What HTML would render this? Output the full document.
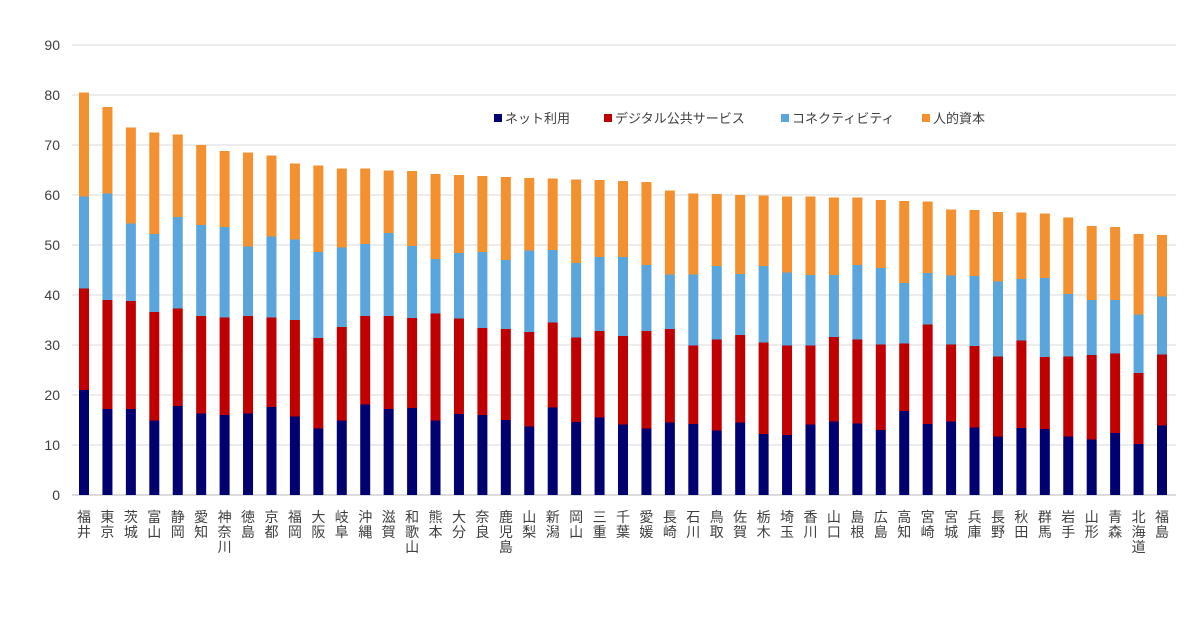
<!DOCTYPE html>
<html><head><meta charset="utf-8">
<style>
body{margin:0;background:#fff;}
svg text{font-family:"Liberation Sans","Noto Sans CJK JP",sans-serif;}
</style></head>
<body>
<svg id="chart" width="1200" height="630" xmlns="http://www.w3.org/2000/svg">
<rect width="1200" height="630" fill="#fff"/>
<g id="grid"></g><g id="bars"></g><g id="xl"></g><g id="yl"></g>
<g id="legend"></g>
</svg>
<script>
const categories=["福井","東京","茨城","富山","静岡","愛知","神奈川","徳島","京都","福岡","大阪","岐阜","沖縄","滋賀","和歌山","熊本","大分","奈良","鹿児島","山梨","新潟","岡山","三重","千葉","愛媛","長崎","石川","鳥取","佐賀","栃木","埼玉","香川","山口","島根","広島","高知","宮崎","宮城","兵庫","長野","秋田","群馬","岩手","山形","青森","北海道","福島"];
const netUse=[21,17.2,17.2,14.9,17.8,16.3,16,16.3,17.6,15.7,13.3,14.9,18.1,17.2,17.4,14.9,16.2,16,15,13.7,17.5,14.6,15.5,14.1,13.3,14.5,14.2,12.9,14.5,12.2,12,14.1,14.7,14.3,13,16.8,14.2,14.7,13.5,11.7,13.4,13.2,11.7,11.1,12.4,10.2,13.9];
const digitalPublic=[20.3,21.8,21.6,21.7,19.5,19.5,19.5,19.5,17.9,19.3,18.1,18.7,17.7,18.6,18.0,21.4,19.1,17.4,18.2,18.9,17.0,16.9,17.3,17.7,19.5,18.7,15.7,18.2,17.5,18.3,17.9,15.8,16.9,16.8,17.1,13.5,19.9,15.4,16.3,16.0,17.5,14.4,16.0,16.9,15.9,14.2,14.2];
const connectivity=[18.4,21.3,15.5,15.6,18.3,18.2,18.1,13.9,16.2,16.1,17.2,15.9,14.4,16.6,14.4,10.9,13.1,15.2,13.8,16.3,14.5,14.9,14.8,15.8,13.2,10.9,14.2,14.7,12.2,15.3,14.6,14.1,12.4,14.9,15.3,12.1,10.3,13.8,14.0,15.0,12.3,15.8,12.5,11.0,10.7,11.7,11.6];
const humanCapital=[20.8,17.3,19.2,20.3,16.5,16.0,15.2,18.8,16.2,15.2,17.3,15.8,15.1,12.5,15.0,17.0,15.6,15.2,16.6,14.5,14.3,16.7,15.4,15.2,16.6,16.8,16.2,14.4,15.8,14.1,15.2,15.7,15.5,13.5,13.6,16.4,14.3,13.2,13.2,13.9,13.3,12.9,15.3,14.8,14.6,16.1,12.3];
const seriesNames=["ネット利用","デジタル公共サービス","コネクティビティ","人的資本"];
const yTicks=[0,10,20,30,40,50,60,70,80,90];

const NS="http://www.w3.org/2000/svg";
const colors=["#000070","#c00000","#5aa5dc","#f39131"];
const series=[netUse,digitalPublic,connectivity,humanCapital];
const x0=84,x1=1162,y0=495,pxPer=5;
const xPos=i=>x0+i*(x1-x0)/(categories.length-1);
const yPos=v=>y0-v*pxPer;
function mk(tag,attrs,parent){const e=document.createElementNS(NS,tag);for(const k in attrs)e.setAttribute(k,attrs[k]);parent.appendChild(e);return e;}
const grid=document.getElementById('grid'),yl=document.getElementById('yl');
yTicks.forEach(t=>{
  const l=mk('line',{x1:72,x2:1176,y1:yPos(t),y2:yPos(t),stroke:t===0?'#d0d0d0':'#e6e6e6','stroke-width':1.5},grid);
  
  
  const tx=mk('text',{x:60,y:yPos(t)+5,'text-anchor':'end','font-size':14,fill:'#404040'},yl);
  tx.textContent=t;
  
  
});
const bars=document.getElementById('bars'),xl=document.getElementById('xl');
categories.forEach((c,i)=>{
  let cum=0;
  series.forEach((s,k)=>{
    const v=s[i];
    const r=mk('rect',{x:xPos(i)-5,y:yPos(cum+v),width:10,height:v*pxPer,fill:colors[k]},bars);
    
    
    cum+=v;
  });
  [...c].forEach((ch,j)=>{
    const t=mk('text',{x:xPos(i),y:522+j*15,'text-anchor':'middle','font-size':14,fill:'#404040'},xl);
    t.textContent=ch;
    
    
  });
});
const lg=document.getElementById('legend');
const lx=[494,604,781,922];
seriesNames.forEach((n,k)=>{
  const r=mk('rect',{x:lx[k],y:114,width:8,height:8,fill:colors[k]},lg);
  
  
  const t=mk('text',{x:lx[k]+11,y:123,'font-size':13,fill:'#404040'},lg);
  t.textContent=n;
  
  
});
</script>
</body></html>
